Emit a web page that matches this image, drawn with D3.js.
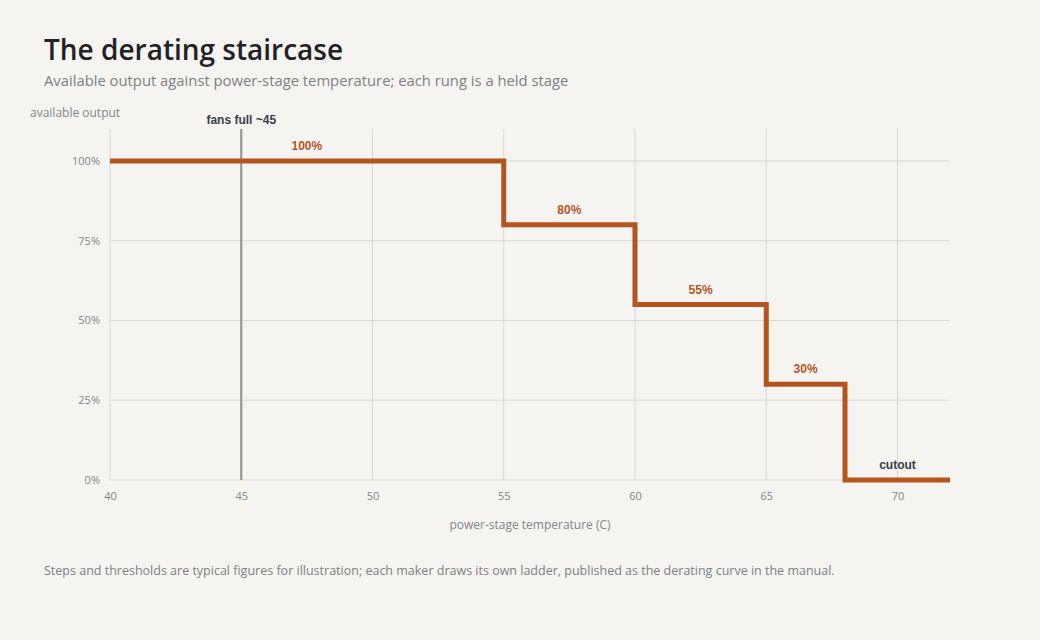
<!DOCTYPE html>
<html>
<head>
<meta charset="utf-8">
<script src="https://cdn.jsdelivr.net/npm/d3@7"></script>
<style>
  body { margin: 0; background: #f5f4f0; }
  text { font-family: "Open Sans", "Noto Sans", sans-serif; }
  .grid line { stroke: #d9d7d3; stroke-width: 1; }
  .tick text { fill: #85858a; font-size: 11px; }
</style>
</head>
<body>
<div id="chart"></div>
<script>
// staircase data: each rung starts at a temperature and holds a level
var stepStart = [40, 55, 60, 65, 68];
var stepEnd = [55, 60, 65, 68, 72];
var stepLevel = [1.0, 0.8, 0.55, 0.3, 0];
var stepLabels = ["100%", "80%", "55%", "30%", "cutout"];

var xTicks = [40, 45, 50, 55, 60, 65, 70];
var yTicks = [0, 0.25, 0.5, 0.75, 1.0];
var fanTemp = 45;

var svgWidth = 1040;
var svgHeight = 640;

var svg = d3.select("#chart")
  .append("svg")
  .attr("width", svgWidth)
  .attr("height", svgHeight);

svg.append("rect")
  .attr("width", svgWidth)
  .attr("height", svgHeight)
  .attr("fill", "#f5f4f0");

var x = d3.scaleLinear()
  .domain([40, 72])
  .range([110, 950]);

var y = d3.scaleLinear()
  .domain([0, 1.1])
  .range([480, 129]);

// titles
svg.append("text")
  .attr("x", 44)
  .attr("y", 60)
  .attr("font-size", 28)
  .attr("font-weight", 600)
  .attr("fill", "#222226")
  .text("The derating staircase");

svg.append("text")
  .attr("x", 44)
  .attr("y", 86)
  .attr("font-size", 14.8)
  .attr("fill", "#808084")
  .text("Available output against power-stage temperature; each rung is a held stage");

// gridlines
var grid = svg.append("g").attr("class", "grid");

grid.selectAll(".vline")
  .data(xTicks)
  .enter()
  .append("line")
  .attr("x1", d => x(d))
  .attr("x2", d => x(d))
  .attr("y1", y(1.1))
  .attr("y2", y(0));

grid.selectAll(".hline")
  .data(yTicks)
  .enter()
  .append("line")
  .attr("x1", x(40))
  .attr("x2", x(72))
  .attr("y1", d => y(d))
  .attr("y2", d => y(d));

// axes (labels only)
var bottomAxis = d3.axisBottom(x).tickValues(xTicks).tickSize(0).tickPadding(12);
var leftAxis = d3.axisLeft(y).tickValues(yTicks).tickSize(0).tickPadding(10)
  .tickFormat(d3.format(".0%"));

svg.append("g")
  .attr("transform", `translate(0, ${y(0)})`)
  .call(bottomAxis)
  .call(g => g.select(".domain").remove());

svg.append("g")
  .attr("transform", `translate(${x(40)}, 0)`)
  .call(leftAxis)
  .call(g => g.select(".domain").remove());

// axis titles
svg.append("text")
  .attr("x", 30)
  .attr("y", 117)
  .attr("font-size", 12)
  .attr("fill", "#85858a")
  .text("available output");

svg.append("text")
  .attr("x", (x(40) + x(72)) / 2)
  .attr("y", 529)
  .attr("text-anchor", "middle")
  .attr("font-size", 12)
  .attr("fill", "#85858a")
  .text("power-stage temperature (C)");

// fans full marker
svg.append("line")
  .attr("x1", x(fanTemp))
  .attr("x2", x(fanTemp))
  .attr("y1", y(1.1))
  .attr("y2", y(0))
  .attr("stroke", "#8f8f98")
  .attr("stroke-width", 2);

svg.append("text")
  .attr("x", x(fanTemp))
  .attr("y", 124)
  .attr("text-anchor", "middle")
  .style("font-family", "'Liberation Sans', Arial, sans-serif")
  .attr("font-size", 12)
  .attr("font-weight", "bold")
  .attr("fill", "#3b3e4a")
  .text("fans full ~45");

// staircase line
var pts = [];
stepStart.forEach(function(s, i) {
  pts.push([s, stepLevel[i]]);
  pts.push([stepEnd[i], stepLevel[i]]);
});

var line = d3.line()
  .x(d => x(d[0]))
  .y(d => y(d[1]));

svg.append("path")
  .datum(pts)
  .attr("d", line)
  .attr("fill", "none")
  .attr("stroke", "#b4541f")
  .attr("stroke-width", 5)
  .attr("stroke-linejoin", "miter")
  .attr("stroke-linecap", "butt");

// rung labels
svg.selectAll(".rungLabel")
  .data(stepLabels)
  .enter()
  .append("text")
  .attr("x", (d, i) => x((stepStart[i] + stepEnd[i]) / 2))
  .attr("y", (d, i) => y(stepLevel[i]) - 11)
  .attr("text-anchor", "middle")
  .style("font-family", "'Liberation Sans', Arial, sans-serif")
  .attr("font-size", 12)
  .attr("font-weight", "bold")
  .attr("fill", (d, i) => stepLevel[i] > 0 ? "#b4541f" : "#3b3e4a")
  .text(d => d);

// footnote
svg.append("text")
  .attr("x", 44)
  .attr("y", 575)
  .attr("font-size", 12.5)
  .attr("fill", "#808084")
  .text("Steps and thresholds are typical figures for illustration; each maker draws its own ladder, published as the derating curve in the manual.");
</script>
</body>
</html>
